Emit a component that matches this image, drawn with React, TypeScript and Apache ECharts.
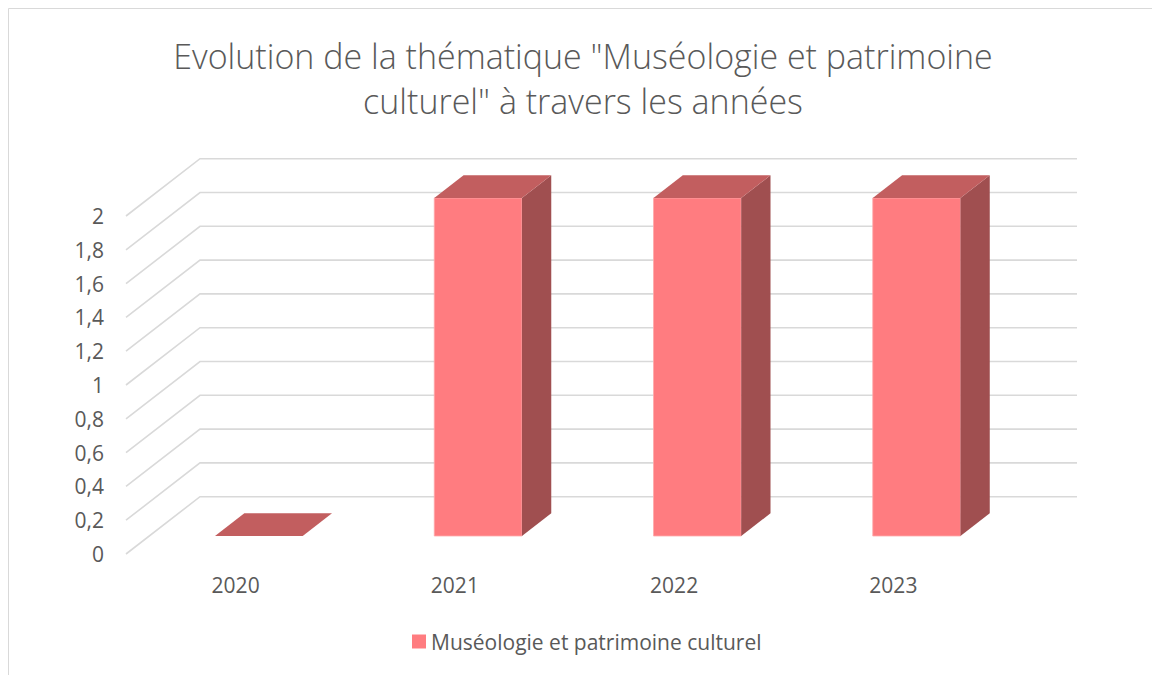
import React, { useEffect, useRef } from "react";
import * as echarts from "echarts";

const categories = ["2020", "2021", "2022", "2023"];
const seriesName = "Muséologie et patrimoine culturel";
const seriesValues = [0, 2, 2, 2];
const yTicks = [0, 0.2, 0.4, 0.6, 0.8, 1, 1.2, 1.4, 1.6, 1.8, 2];
const titleLines = [
  'Evolution de la thématique "Muséologie et patrimoine',
  'culturel" à travers les années',
];

const FONT = "'Open Sans', 'Noto Sans', sans-serif";
const TEXT = "#595959";
const GRID = "#D9D9D9";
const FRONT = "#FF7C80";
const TOP = "#C25E5F";
const SIDE = "#A04F50";
const DX = 74;
const DY = -57.3;
const F1 = 0.314;
const F2 = 0.71;

export default function App() {
  const ref = useRef<HTMLDivElement>(null);
  useEffect(() => {
    if (!ref.current) return;
    const chart = echarts.init(ref.current, undefined, { renderer: "svg" });
    const fmt = (v: number) => String(Math.round(v * 10) / 10).replace(".", ",");
    chart.setOption({
      animation: false,
      backgroundColor: "#ffffff",
      textStyle: { fontFamily: FONT },
      graphic: [
        {
          type: "rect",
          shape: { x: 8.5, y: 8.5, width: 1200, height: 720 },
          style: { fill: "none", stroke: GRID, lineWidth: 1 },
          silent: true,
          z: -10,
        },
        ...titleLines.map((t, i) => ({
          type: "text",
          x: 583,
          y: 56 + i * 45,
          style: {
            text: t,
            fill: TEXT,
            font: `300 34px ${FONT}`,
            textAlign: "center",
            textVerticalAlign: "middle",
          },
        })),
      ],
      legend: {
        data: [seriesName],
        icon: "rect",
        itemWidth: 14,
        itemHeight: 14,
        itemGap: 10,
        padding: 0,
        left: 412,
        top: 631,
        textStyle: { color: TEXT, fontSize: 21, fontFamily: FONT },
      },
      grid: { left: 126, top: 216, width: 877, height: 338, containLabel: false },
      xAxis: {
        type: "category",
        data: categories,
        axisLine: { show: false },
        axisTick: { show: false },
        axisLabel: { color: TEXT, fontSize: 21, margin: 20, fontFamily: FONT },
        splitLine: { show: false },
      },
      yAxis: {
        type: "value",
        min: 0,
        max: 2,
        interval: 0.2,
        axisLine: { show: false },
        axisTick: { show: false },
        splitLine: { show: false },
        axisLabel: { color: TEXT, fontSize: 21, margin: 22, fontFamily: FONT, formatter: fmt },
      },
      series: [
        {
          type: "custom",
          name: "walls",
          silent: true,
          data: yTicks.map((v) => [0, v]),
          encode: { x: 0, y: 1 },
          z: 1,
          renderItem: (params: any, api: any) => {
            const cs = params.coordSys;
            const y = api.coord([0, api.value(1)])[1];
            return {
              type: "polyline",
              shape: {
                points: [
                  [cs.x, y],
                  [cs.x + DX, y + DY],
                  [cs.x + cs.width + DX, y + DY],
                ],
              },
              style: { stroke: GRID, lineWidth: 1.6, fill: "none" },
            };
          },
        },
        {
          type: "custom",
          name: seriesName,
          data: seriesValues.map((v, i) => [i, v]),
          encode: { x: 0, y: 1 },
          itemStyle: { color: FRONT },
          z: 2,
          renderItem: (params: any, api: any) => {
            const i = api.value(0);
            const v = api.value(1);
            const base = api.coord([i, 0]);
            const top = api.coord([i, v]);
            const band = api.size([1, 0])[0];
            const w = band * 0.4;
            const x0 = base[0] - w / 2;
            const fx = DX * F1, fy = DY * F1, bx = DX * F2, by = DY * F2;
            const yt = top[1];
            const yb = base[1];
            const children: any[] = [];
            if (v > 0) {
              children.push({
                type: "rect",
                shape: { x: x0 + fx, y: yt + fy, width: w, height: yb - yt },
                style: { fill: FRONT, stroke: "#FFA9AB", lineWidth: 0.8 },
              });
              children.push({
                type: "polygon",
                shape: {
                  points: [
                    [x0 + w + fx, yt + fy],
                    [x0 + w + bx, yt + by],
                    [x0 + w + bx, yb + by],
                    [x0 + w + fx, yb + fy],
                  ],
                },
                style: { fill: SIDE },
              });
            }
            children.push({
              type: "polygon",
              shape: {
                points: [
                  [x0 + fx, yt + fy],
                  [x0 + w + fx, yt + fy],
                  [x0 + w + bx, yt + by],
                  [x0 + bx, yt + by],
                ],
              },
              style: { fill: TOP },
            });
            return { type: "group", children };
          },
        },
      ],
    });
    return () => chart.dispose();
  }, []);
  return (
    <div
      ref={ref}
      style={{ position: "absolute", left: 0, top: 0, width: 1152, height: 675 }}
    />
  );
}
